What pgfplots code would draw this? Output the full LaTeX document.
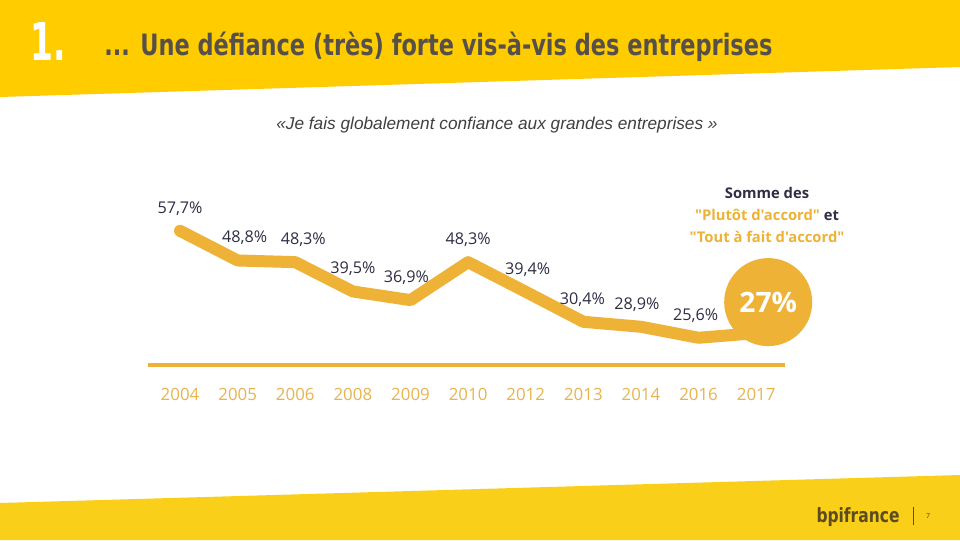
\documentclass[border=0pt]{standalone}
\usepackage{pgfplots}
\pgfplotsset{compat=1.18}
\usepackage{pgfplotstable}
\usepackage{fontspec}
\setmainfont{Open Sans}
\newfontfamily\annfont{Open Sans}
\newfontfamily\condfont{DejaVu Sans Condensed}
\newfontfamily\arialfont{Liberation Sans}
\definecolor{hdr}{HTML}{FFCC00}
\definecolor{ftr}{HTML}{F9CF1A}
\definecolor{gold}{HTML}{EDB236}
\definecolor{yearc}{HTML}{E8B44E}
\definecolor{titlec}{HTML}{57504A}
\definecolor{navy}{HTML}{2E2E45}
\definecolor{logoc}{HTML}{5C4B1F}

\pgfplotstableread{
x y dx lab
0 57.7 0 {57,7\%}
1 48.8 7 {48,8\%}
2 48.3 8 {48,3\%}
3 39.5 0 {39,5\%}
4 36.9 -4 {36,9\%}
5 48.3 0 {48,3\%}
6 39.4 2 {39,4\%}
7 30.4 -1 {30,4\%}
8 28.9 -4 {28,9\%}
9 25.6 -3 {25,6\%}
10 27.0 0 {}
}\datatable

\begin{document}
\begin{tikzpicture}
\begin{scope}[x=0.025cm,y=-0.025cm,yshift=13.5cm]
  \path[use as bounding box] (0,0) rectangle (960,540);
  \fill[white] (0,0) rectangle (960,540);
  \fill[hdr] (0,0) -- (960,0) -- (960,67) -- (0,97) -- cycle;
  \fill[ftr] (0,540) -- (960,540) -- (960,475) -- (0,503) -- cycle;
  \node[anchor=west, inner sep=0, text=white] at (30,41)
    {\scalebox{0.7}[1]{\resizebox*{!}{0.95cm}{\condfont\bfseries 1.}}};
  \node[anchor=west, inner sep=0, text=titlec] at (104,46.5)
    {\resizebox*{16.7cm}{0.74cm}{\condfont\bfseries ... Une défiance (très) forte vis-à-vis des entreprises}};
  \node[inner sep=0, text=black!75] at (497,125)
    {\resizebox{11.03cm}{!}{\arialfont\itshape «Je fais globalement confiance aux grandes entreprises »}};
  \node[align=center, inner sep=0, font=\annfont\fontsize{10.5}{15.5}\selectfont\bfseries, text=navy] at (767,215)
    {Somme des\\ \textcolor{gold}{"Plutôt d'accord"} et\\ \textcolor{gold}{"Tout à fait d'accord"}};
  \node[inner sep=0, text=logoc] at (858,517.5)
    {\resizebox*{2.075cm}{0.475cm}{\condfont\bfseries bpifrance}};
  \draw[logoc, line width=0.6pt] (913,507) -- (913,525);
  \node[inner sep=0, text=logoc, font=\fontsize{5}{6}\selectfont] at (928,516) {7};
\end{scope}

\begin{axis}[
  at={(3.7075cm,4.375cm)}, anchor=south west,
  width=15.9125cm, height=4.38cm, scale only axis,
  xmin=-0.55, xmax=10.5, ymin=17.4, ymax=70,
  axis x line=bottom, axis y line=none,
  x axis line style={draw=gold, line width=2.8pt, -},
  xtick={0,1,2,3,4,5,6,7,8,9,10},
  xticklabels={2004,2005,2006,2008,2009,2010,2012,2013,2014,2016,2017},
  ytick=\empty,
  major tick length=0pt,
  xticklabel style={anchor=center, yshift=-0.725cm, text=yearc, font=\fontsize{12}{14}\selectfont},
  clip=false,
]
\addplot[gold, line width=0.3cm, line join=round, line cap=round,
  nodes near coords, point meta=explicit symbolic,
  visualization depends on={\thisrow{dx} \as \dx},
  nodes near coords style={anchor=center, xshift=\dx*0.025cm, yshift=0.56cm,
    text=navy, font=\fontsize{11.5}{13}\selectfont}]
  table[x=x, y=y, meta=lab] {\datatable};
\node[circle, fill=gold, minimum size=2.2cm, inner sep=0, text=white,
  font=\fontsize{20}{24}\selectfont\bfseries]
  at ([xshift=0.3cm, yshift=0.775cm]axis cs:10,27) {27\%};
\end{axis}
\end{tikzpicture}
\end{document}
